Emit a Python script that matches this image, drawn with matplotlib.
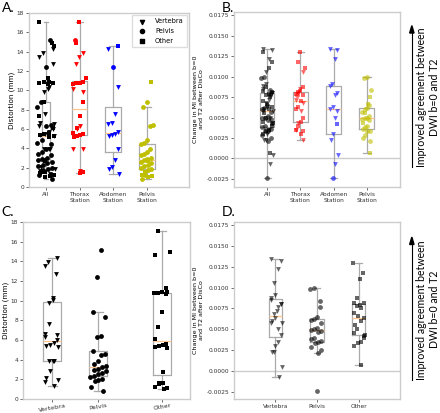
import numpy as np
import matplotlib.pyplot as plt

# distortion (mm) by station and structure
thorax_vert = [13.9, 13.5, 12.7, 10.1, 9.8, 6.3, 6.0, 3.9, 3.9, 1.7]
thorax_pelv = [15.2]
thorax_other = [17.1, 14.9, 11.3, 10.9, 10.8, 10.8, 10.7, 8.8, 7.3, 6.1, 5.6, 5.5, 5.4, 5.3, 5.2, 1.6, 1.5]
abd_vert = [14.3, 10.3, 7.6, 6.6, 6.5, 5.7, 5.5, 5.4, 5.3, 3.9, 2.8, 2.1, 1.9, 1.3]
abd_pelv = [12.4]
abd_other = [14.6]
pelst_vert = []
pelst_pelv = [8.8, 8.3, 6.4, 6.3, 4.9, 4.6, 4.5, 3.9, 3.6, 3.4, 3.3, 3.0, 2.9, 2.8, 2.6, 2.5, 2.3, 2.2, 2.0, 1.9, 1.8, 1.2, 0.8]
pelst_other = [10.9, 2.7, 1.6, 1.2, 1.1, 1.0]

# change in MI between b=0 and T2 after DisCo
mi_thorax_vert = [0.0106, 0.0085, 0.0080, 0.0072, 0.0068, 0.0058, 0.0043, 0.0035, 0.0023]
mi_thorax_pelv = [0.0077]
mi_thorax_other = [0.0130, 0.0118, 0.0110, 0.0087, 0.0082, 0.0081, 0.0079, 0.0078, 0.0070,
                   0.0063, 0.0060, 0.0050, 0.0045, 0.0040, 0.0035, 0.0033, 0.0030]
mi_abd_vert = [0.0134, 0.0132, 0.0122, 0.0091, 0.0088, 0.0080, 0.0077, 0.0063, 0.0060,
               0.0058, 0.0050, 0.0030, 0.0023, 0.0004, -0.0007]
mi_abd_pelv = [-0.0024]
mi_abd_other = [0.0042]
mi_pelst_vert = []
mi_pelst_pelv = [0.0100, 0.0098, 0.0084, 0.0065, 0.0062, 0.0061, 0.0057, 0.0052, 0.0050, 0.0049,
                 0.0048, 0.0047, 0.0040, 0.0038, 0.0036, 0.0034, 0.0033, 0.0028, 0.0025, 0.0021]
mi_pelst_other = [0.0075, 0.0066, 0.0055, 0.0043, 0.0007]

station_labels = ['All', 'Thorax\nStation', 'Abdomen\nStation', 'Pelvis\nStation']
struct_labels = ['Vertebra', 'Pelvis', 'Other']
markers = ['v', 'o', 's']
station_colors = ['#ff0000', '#0000ff', '#bfbf00']

dist = [[thorax_vert, thorax_pelv, thorax_other],
        [abd_vert, abd_pelv, abd_other],
        [pelst_vert, pelst_pelv, pelst_other]]
mi = [[mi_thorax_vert, mi_thorax_pelv, mi_thorax_other],
      [mi_abd_vert, mi_abd_pelv, mi_abd_other],
      [mi_pelst_vert, mi_pelst_pelv, mi_pelst_other]]

LF = ['Lato', 'DejaVu Sans']
TS = 4.2


def jit(n, k, spread):
    return ((np.arange(n) * 0.7548777 + 0.37 * k) % 1 - 0.5) * 2 * spread


def column(ax, pos, groups, color, alpha, width, spread, ms=12):
    allv = [v for g in groups for v in g]
    ax.boxplot([allv], positions=[pos], widths=width, showfliers=False,
               boxprops=dict(color='#aaaaaa', lw=0.9),
               whiskerprops=dict(color='#aaaaaa', lw=0.9),
               capprops=dict(color='#aaaaaa', lw=0.9),
               medianprops=dict(color='#ffc58f', lw=0.9))
    k = 0
    for g, m in zip(groups, markers):
        if len(g) == 0:
            continue
        x = pos + jit(len(g), k + pos, spread)
        ax.scatter(x, g, marker=m, s=ms, color=color, alpha=alpha, lw=0, zorder=3)
        k += 1


def style(ax):
    for s in ax.spines.values():
        s.set_color('#cccccc')
        s.set_linewidth(1.0)
    ax.tick_params(labelsize=TS, colors='#333333', length=2, width=0.5, pad=1.5)


fig = plt.figure(figsize=(4.4, 4.13), dpi=100)

# A
axA = fig.add_axes([0.0659, 0.5472, 0.3636, 0.4213])
allA = [sum((dist[s][c] for s in range(3)), []) for c in range(3)]
column(axA, 1, allA, 'black', 1.0, 0.25, 0.27)
for i in range(3):
    column(axA, 2 + i, dist[i], station_colors[i], 1.0, 0.47, 0.19)
axA.set_xlim(0.5, 5.25)
axA.set_ylim(0, 18)
axA.set_yticks(range(0, 19, 2))
axA.set_xticks([1, 2, 3, 4])
axA.set_xticklabels(station_labels)
axA.set_ylabel('Distortion (mm)', fontsize=5.2, labelpad=1)
style(axA)
hs = [axA.scatter([], [], marker=m, s=9, color='black') for m in markers]
axA.legend(hs, struct_labels, loc='upper right', fontsize=4.8, frameon=True,
           edgecolor='#dddddd', handletextpad=0.9, borderpad=0.5, labelspacing=0.55,
           framealpha=1, fancybox=False, borderaxespad=0.3)

# B
axB = fig.add_axes([0.5318, 0.5472, 0.3773, 0.4237])
allB = [sum((mi[s][c] for s in range(3)), []) for c in range(3)]
axB.axhline(0, color='#cccccc', lw=1, zorder=0)
column(axB, 1, allB, 'black', 0.6, 0.42, 0.18)
for i in range(3):
    column(axB, 2 + i, mi[i], station_colors[i], 0.6, 0.45, 0.14)
axB.set_xlim(0, 5)
axB.set_ylim(-0.0035, 0.0179)
yt = [-0.0025 + 0.0025 * i for i in range(9)]
axB.set_yticks(yt)
axB.set_yticklabels(['%.4f' % v for v in yt])
axB.set_xticks([1, 2, 3, 4])
axB.set_xticklabels(station_labels)
axB.set_ylabel('Change in MI between b=0\nand T2 after DisCo', fontsize=4.6, labelpad=2)
style(axB)

# C
axC = fig.add_axes([0.0523, 0.0339, 0.3795, 0.4286])
posC = [0.7, 1.8, 3.33]
for c in range(3):
    grp = [[], [], []]
    grp[c] = allA[c]
    column(axC, posC[c], grp, 'black', 1.0, 0.42, 0.19)
axC.set_xlim(0, 4)
axC.set_ylim(0, 18)
axC.set_yticks(range(0, 19, 2))
axC.set_xticks(posC)
axC.set_xticklabels(struct_labels, rotation=10)
axC.set_ylabel('Distortion (mm)', fontsize=5.2, labelpad=1)
style(axC)
axC.tick_params(axis='x', labelsize=4.6, pad=1)

# D
axD = fig.add_axes([0.5318, 0.0339, 0.3773, 0.4286])
axD.axhline(0, color='#cccccc', lw=1, zorder=0)
for c in range(3):
    grp = [[], [], []]
    grp[c] = allB[c]
    column(axD, 1 + c, grp, 'black', 0.6, 0.32, 0.16)
axD.set_xlim(0, 4)
axD.set_ylim(-0.0034, 0.0179)
axD.set_yticks(yt)
axD.set_yticklabels(['%.4f' % v for v in yt])
axD.set_xticks([1, 2, 3])
axD.set_xticklabels(struct_labels)
axD.set_ylabel('Change in MI between b=0\nand T2 after DisCo', fontsize=4.6, labelpad=2)
style(axD)

# panel letters
for t, x, y in [('A.', 0.005, 0.995), ('B.', 0.503, 0.995), ('C.', 0.003, 0.5), ('D.', 0.503, 0.5)]:
    fig.text(x, y, t, fontsize=10, family=LF, va='top')

# right-hand arrows and notes
for ycen, ytop, ybot in [(0.765, 0.932, 0.596), (0.25, 0.42, 0.08)]:
    fig.add_artist(plt.Line2D([0.936, 0.936], [ybot, ytop - 0.01], color='black', lw=0.8))
    fig.add_artist(plt.Polygon([[0.931, ytop - 0.012], [0.941, ytop - 0.012], [0.936, ytop + 0.006]],
                               color='black'))
    fig.text(0.973, ycen, 'Improved agreement between\nDWI b=0 and T2', rotation=90,
             fontsize=7.6, family=LF, ha='center', va='center', linespacing=1.3)

plt.savefig('out.png', dpi=100)
